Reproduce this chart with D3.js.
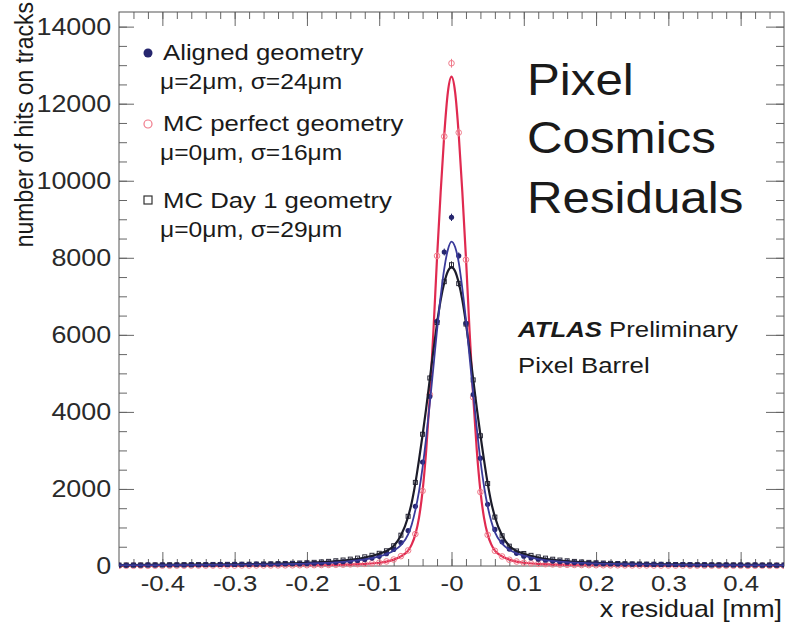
<!DOCTYPE html>
<html>
<head>
<meta charset="utf-8">
<script src="https://cdn.jsdelivr.net/npm/d3@7"></script>
<style>
  body { margin: 0; background: #fff; }
  svg { display: block; font-family: "Liberation Sans", Arial, sans-serif; }
</style>
</head>
<body>
<div id="chart"></div>
<script>
// Histogram bins: 0.01 mm wide, centred from -0.46 to 0.46 (93 bins)
var binCenters = d3.range(-46, 47).map(function(i) { return i / 100; });

// Aligned geometry (data, filled circles)
var alignedCounts = [
    22, 18, 25, 20, 27, 24, 30, 26, 33, 29,
    35, 31, 38, 34, 40, 37, 42, 45, 41, 48,
    46, 52, 55, 58, 62, 60, 68, 72, 78, 85,
    95, 110, 125, 145, 170, 205, 250, 320, 430, 610,
    920, 1550, 2700, 4400, 6350, 8150,
    9050,
    8050, 6300, 4450, 2800, 1600, 950,
    630, 440, 330, 255, 210, 175, 150, 128, 112, 98,
    88, 80, 73, 66, 62, 58, 55, 51, 48, 46,
    43, 40, 42, 38, 36, 39, 34, 32, 35, 30,
    28, 31, 26, 29, 24, 27, 22, 25, 20, 23
];

// MC perfect geometry (open circles)
var perfectCounts = [
    6, 7, 6, 8, 7, 8, 9, 8, 10, 9,
    11, 12, 11, 13, 12, 13, 12, 14, 13, 14,
    14, 15, 16, 17, 18, 20, 21, 23, 26, 29,
    32, 36, 42, 48, 56, 70, 86, 118, 168, 255,
    405, 830, 1950, 4450, 8050, 11150,
    13050,
    11250, 7950, 4380, 1920, 810, 395,
    248, 162, 116, 84, 68, 55, 47, 41, 36, 31,
    28, 25, 22, 20, 19, 17, 18, 16, 15, 14,
    15, 13, 12, 13, 11, 12, 10, 11, 9, 10,
    8, 9, 7, 8, 6, 7, 8, 6, 7, 6
];

// MC Day 1 geometry (open squares)
var day1Counts = [
    24, 27, 25, 29, 27, 31, 29, 33, 31, 35,
    34, 37, 36, 40, 39, 43, 42, 46, 45, 50,
    53, 57, 61, 66, 71, 78, 85, 95, 106, 120,
    136, 155, 178, 205, 238, 278, 330, 395, 525, 800,
    1290, 2170, 3420, 4880, 6320, 7380,
    7820,
    7330, 6280, 4830, 3380, 2140, 1270,
    785, 515, 390, 325, 276, 236, 204, 176, 154, 135,
    119, 105, 94, 84, 77, 70, 65, 60, 56, 52,
    49, 46, 44, 41, 39, 37, 35, 34, 32, 31,
    30, 28, 29, 27, 26, 28, 25, 27, 24, 26
];

// Fit curves, read at these x positions
var curveX = [-0.46, -0.3, -0.2, -0.15, -0.12, -0.1, -0.09, -0.08, -0.07, -0.06, -0.055,
    -0.05, -0.045, -0.04, -0.035, -0.03, -0.025, -0.02, -0.015, -0.01, -0.005, 0,
    0.005, 0.01, 0.015, 0.02, 0.025, 0.03, 0.035, 0.04, 0.045, 0.05, 0.055, 0.06,
    0.07, 0.08, 0.09, 0.1, 0.12, 0.15, 0.2, 0.3, 0.46];
var perfectFit = [8, 12, 20, 35, 55, 85, 115, 165, 250, 400, 560,
    820, 1250, 1950, 3000, 4400, 6100, 8000, 9700, 11200, 12300, 12700,
    12300, 11200, 9700, 8000, 6100, 4400, 3000, 1950, 1250, 820, 560, 400,
    250, 165, 115, 85, 55, 35, 20, 12, 8];
var alignedFit = [22, 38, 64, 108, 170, 252, 310, 395, 540, 820, 1080,
    1450, 1930, 2560, 3340, 4220, 5170, 6120, 7000, 7720, 8210, 8420,
    8280, 7880, 7200, 6380, 5430, 4480, 3570, 2740, 2070, 1550, 1160, 880,
    580, 425, 330, 268, 180, 112, 66, 38, 22];
var day1Fit = [25, 45, 80, 140, 220, 320, 390, 520, 790, 1280, 1650,
    2150, 2750, 3400, 4100, 4850, 5600, 6300, 6900, 7350, 7650, 7750,
    7650, 7350, 6900, 6300, 5600, 4850, 4100, 3400, 2750, 2150, 1650, 1280,
    790, 520, 390, 320, 220, 140, 80, 45, 25];

// Tick values and labels
var xTicks = [-0.4, -0.3, -0.2, -0.1, 0, 0.1, 0.2, 0.3, 0.4];
var xTickLabels = ["-0.4", "-0.3", "-0.2", "-0.1", "-0", "0.1", "0.2", "0.3", "0.4"];
var yTicks = [0, 2000, 4000, 6000, 8000, 10000, 12000, 14000];
var yTickLabels = ["0", "2000", "4000", "6000", "8000", "10000", "12000", "14000"];
var xMinor = d3.range(-22, 23).map(function(i) { return i / 50; });
var yMinor = d3.range(0, 29).map(function(i) { return i * 500; });

var w = 793, h = 623;
var frame = { left: 119, right: 784, top: 12, bottom: 566 };
var sx = 1.12; // text in the original is slightly wide

var xScale = d3.scaleLinear().domain([-0.46, 0.46]).range([frame.left, frame.right]);
var yScale = d3.scaleLinear().domain([0, 14380]).range([frame.bottom, frame.top]);

var svg = d3.select("#chart").append("svg")
    .attr("width", w)
    .attr("height", h);

svg.append("defs").append("clipPath").attr("id", "plotclip")
    .append("rect")
    .attr("x", frame.left).attr("y", frame.top - 10)
    .attr("width", frame.right - frame.left)
    .attr("height", frame.bottom - frame.top + 14);

function label(parent, x, y, str, size, anchor) {
    return parent.append("text")
        .attr("transform", "translate(" + x + "," + y + ") scale(" + sx + ",1)")
        .attr("text-anchor", anchor || "start")
        .attr("font-size", size)
        .attr("fill", "#1a1a1a")
        .text(str);
}

function tickAxis(axis, tx, ty) {
    var g = svg.append("g")
        .attr("transform", "translate(" + tx + "," + ty + ")")
        .call(axis);
    g.select(".domain").remove();
    g.selectAll(".tick line").attr("stroke", "#666").attr("stroke-width", 1);
    return g;
}

// minor ticks on all four sides
tickAxis(d3.axisBottom(xScale).tickValues(xMinor).tickSize(-7).tickFormat(""), 0, frame.bottom);
tickAxis(d3.axisTop(xScale).tickValues(xMinor).tickSize(-7).tickFormat(""), 0, frame.top);
tickAxis(d3.axisLeft(yScale).tickValues(yMinor).tickSize(-8).tickFormat(""), frame.left, 0);
tickAxis(d3.axisRight(yScale).tickValues(yMinor).tickSize(-8).tickFormat(""), frame.right, 0);

// major ticks with labels
var xAxisG = tickAxis(d3.axisBottom(xScale).tickValues(xTicks).tickSize(-14).tickPadding(9)
    .tickFormat(function(d, i) { return xTickLabels[i]; }), 0, frame.bottom);
xAxisG.selectAll("text")
    .attr("font-size", 23)
    .attr("font-family", "Liberation Sans, Arial, sans-serif")
    .attr("fill", "#2a2a2a")
    .attr("transform", "scale(" + sx + ",1)");
tickAxis(d3.axisTop(xScale).tickValues(xTicks).tickSize(-14).tickFormat(""), 0, frame.top);

var yAxisG = tickAxis(d3.axisLeft(yScale).tickValues(yTicks).tickSize(-15).tickPadding(7)
    .tickFormat(function(d, i) { return yTickLabels[i]; }), frame.left, 0);
yAxisG.selectAll("text")
    .attr("font-size", 24)
    .attr("font-family", "Liberation Sans, Arial, sans-serif")
    .attr("fill", "#2a2a2a")
    .attr("transform", "scale(" + sx + ",1)");
tickAxis(d3.axisRight(yScale).tickValues(yTicks).tickSize(-18).tickFormat(""), frame.right, 0);

// frame
svg.append("rect")
    .attr("x", frame.left).attr("y", frame.top)
    .attr("width", frame.right - frame.left)
    .attr("height", frame.bottom - frame.top)
    .attr("fill", "none")
    .attr("stroke", "#555")
    .attr("stroke-width", 1);

var plot = svg.append("g").attr("clip-path", "url(#plotclip)");

var line = d3.line()
    .x(function(d) { return xScale(d[0]); })
    .y(function(d) { return yScale(d[1]); })
    .curve(d3.curveMonotoneX);

function pairs(xs, ys) {
    return xs.map(function(x, i) { return [x, ys[i]]; });
}

function errorBars(counts, color) {
    plot.append("g").selectAll("line")
        .data(pairs(binCenters, counts))
        .enter().append("line")
        .attr("x1", function(d) { return xScale(d[0]); })
        .attr("x2", function(d) { return xScale(d[0]); })
        .attr("y1", function(d) { return yScale(d[1] - Math.sqrt(d[1])); })
        .attr("y2", function(d) { return yScale(d[1] + Math.sqrt(d[1])); })
        .attr("stroke", color)
        .attr("stroke-width", 1);
}

var navy = "#26266e";
var red = "#e02a50";
var pink = "#f07a8a";

// MC perfect: curve + open circles
plot.append("path")
    .datum(pairs(curveX, perfectFit))
    .attr("d", line)
    .attr("fill", "none")
    .attr("stroke", red)
    .attr("stroke-width", 2.2);
errorBars(perfectCounts, pink);
plot.append("g").selectAll("circle")
    .data(pairs(binCenters, perfectCounts))
    .enter().append("circle")
    .attr("cx", function(d) { return xScale(d[0]); })
    .attr("cy", function(d) { return yScale(d[1]); })
    .attr("r", 2.8)
    .attr("fill", "none")
    .attr("stroke", pink)
    .attr("stroke-width", 1);

// MC Day 1: open squares
errorBars(day1Counts, "#333");
plot.append("g").selectAll("rect")
    .data(pairs(binCenters, day1Counts))
    .enter().append("rect")
    .attr("x", function(d) { return xScale(d[0]) - 2; })
    .attr("y", function(d) { return yScale(d[1]) - 2; })
    .attr("width", 4)
    .attr("height", 4)
    .attr("fill", "none")
    .attr("stroke", "#2a2a3a")
    .attr("stroke-width", 1);

// Aligned data: filled circles
errorBars(alignedCounts, navy);
plot.append("g").selectAll("circle")
    .data(pairs(binCenters, alignedCounts))
    .enter().append("circle")
    .attr("cx", function(d) { return xScale(d[0]); })
    .attr("cy", function(d) { return yScale(d[1]); })
    .attr("r", 2.6)
    .attr("fill", navy);

// fits for day 1 and aligned
plot.append("path")
    .datum(pairs(curveX, day1Fit))
    .attr("d", line)
    .attr("fill", "none")
    .attr("stroke", "#1c1c2a")
    .attr("stroke-width", 2.2);
plot.append("path")
    .datum(pairs(curveX, alignedFit))
    .attr("d", line)
    .attr("fill", "none")
    .attr("stroke", "#3a3a9a")
    .attr("stroke-width", 1.8);

// legend
var leg = svg.append("g");
leg.append("circle").attr("cx", 148).attr("cy", 53).attr("r", 4.5).attr("fill", navy);
label(leg, 163, 60, "Aligned geometry", 23);
label(leg, 160, 89, "\u03bc=2\u03bcm, \u03c3=24\u03bcm", 22);
leg.append("circle").attr("cx", 148).attr("cy", 124).attr("r", 4)
    .attr("fill", "none").attr("stroke", pink).attr("stroke-width", 1.2);
label(leg, 163, 131, "MC perfect geometry", 23);
label(leg, 160, 160, "\u03bc=0\u03bcm, \u03c3=16\u03bcm", 22);
leg.append("rect").attr("x", 144).attr("y", 196).attr("width", 8).attr("height", 8)
    .attr("fill", "none").attr("stroke", "#333").attr("stroke-width", 1.2);
label(leg, 163, 208, "MC Day 1 geometry", 23);
label(leg, 160, 237, "\u03bc=0\u03bcm, \u03c3=29\u03bcm", 22);

// big title on the right
label(svg, 527, 95, "Pixel", 44);
label(svg, 527, 153, "Cosmics", 44);
label(svg, 527, 213, "Residuals", 44);

// ATLAS label
var atlas = label(svg, 518, 337, "", 23);
atlas.append("tspan").attr("font-weight", "bold").attr("font-style", "italic").text("ATLAS");
atlas.append("tspan").text(" Preliminary");
label(svg, 518, 373, "Pixel Barrel", 23);

// axis titles
svg.append("text")
    .attr("transform", "translate(33,2) rotate(-90) scale(1," + sx + ")")
    .attr("text-anchor", "end")
    .attr("font-size", 23)
    .attr("fill", "#1a1a1a")
    .text("number of hits on tracks");
label(svg, 782, 617, "x residual [mm]", 24, "end");
</script>
</body>
</html>
